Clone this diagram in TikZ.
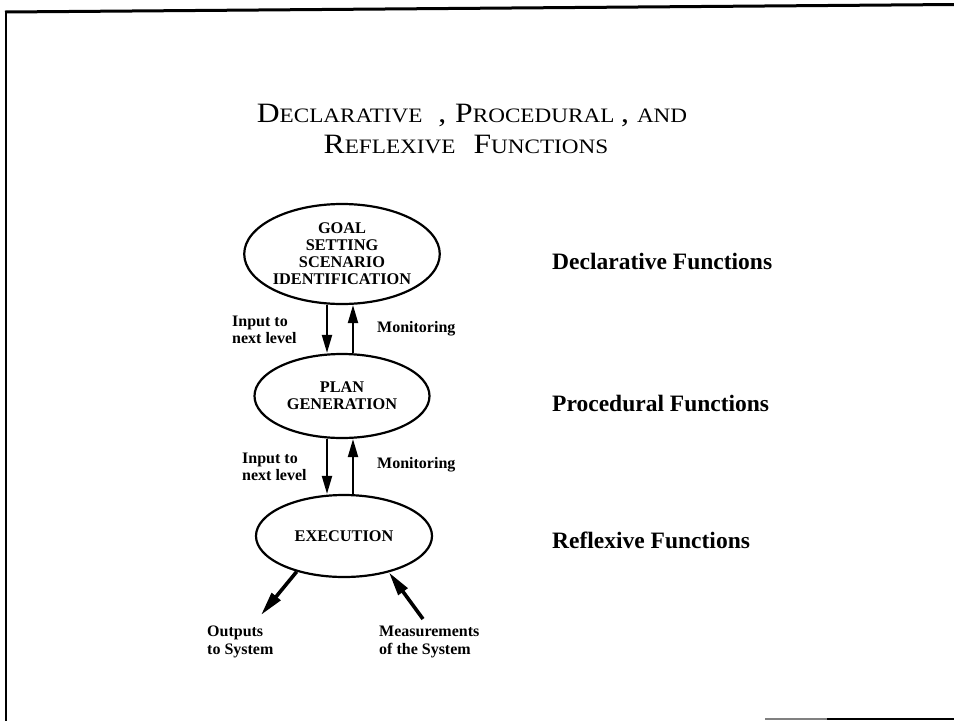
\documentclass[tikz,border=0pt]{standalone}
\usepackage{fontspec}
\usepackage{graphicx}
\setmainfont{Liberation Serif}
\usetikzlibrary{arrows.meta,shapes.geometric}
\newcommand\tcap[1]{{\fontsize{28}{30}\selectfont #1}}
\newcommand\tsm[1]{{\fontsize{20.5}{30}\selectfont #1}}
\begin{document}
\begin{tikzpicture}[x=1pt,y=-1pt,
  bub/.style={ellipse,draw,line width=2.2pt,inner sep=0pt,align=center,font=\bfseries\fontsize{16.3}{17}\selectfont},
  flow/.style={line width=2pt,-{Triangle[length=18pt,width=10pt]}},
  bigarrow/.style={line width=3.6pt,-{Triangle[length=24pt,width=11pt]}},
  lab/.style={font=\bfseries\fontsize{16}{17.5}\selectfont,align=left,inner sep=0pt},
  side/.style={font=\bfseries\fontsize{23.5}{26}\selectfont,anchor=west,inner sep=0pt},
  ttl/.style={anchor=base,inner sep=0pt}]
\useasboundingbox (0,0) rectangle (954,721);
\fill[white] (0,0) rectangle (954,721);
% frame
\draw[line width=3pt] (5,12) -- (954,4.5);
\draw[line width=2.5pt] (6,11) -- (6,721);
\draw[line width=2pt,gray] (765,719) -- (827,719);
\draw[line width=2pt] (827,719) -- (954,719);
% title
\node[ttl] (t1) at (472,122) {\scalebox{1.13}[1]{\tcap{D}\tsm{ECLARATIVE}\hspace{14pt}\tcap{,}\hspace{8pt}\tcap{P}\tsm{ROCEDURAL}\hspace{6pt}\tcap{,}\hspace{7pt}\tsm{AND}}};
\node[ttl] (t2) at (466,153) {\scalebox{1.13}[1]{\tcap{R}\tsm{EFLEXIVE}\hspace{16pt}\tcap{F}\tsm{UNCTIONS}}};
% ellipses
\node[bub,minimum width=177pt,minimum height=100pt] (goal) at (342,254) {GOAL\\SETTING\\SCENARIO\\IDENTIFICATION};
\node[bub,minimum width=175pt,minimum height=84pt] (plan) at (342,396) {PLAN\\GENERATION};
\node[bub,minimum width=176pt,minimum height=82pt] (exec) at (344,536) {EXECUTION};
% vertical connectors
\coordinate (dl) at (327,0);
\coordinate (ul) at (353,0);
\draw[flow] (goal.south -| dl) -- (plan.north -| dl);
\draw[flow] (plan.north -| ul) -- (goal.south -| ul);
\draw[flow] (plan.south -| dl) -- (exec.north -| dl);
\draw[flow] (exec.north -| ul) -- (plan.south -| ul);
% labels
\node[lab,anchor=west] (in1) at (232,330) {Input to\\next level};
\node[lab,anchor=west] (mon1) at (377,329) {Monitoring};
\node[lab,anchor=west] (in2) at (242,467) {Input to\\next level};
\node[lab,anchor=west] (mon2) at (377,465) {Monitoring};
% system arrows
\coordinate (otip) at (261,615);
\coordinate (mtail) at (423,619);
\draw[bigarrow] (exec.217) -- (otip);
\draw[bigarrow] (mtail) -- (exec.321);
\node[lab,anchor=north west] (outlab) at (207,626) {Outputs\\to System};
\node[lab,anchor=north west] (meslab) at (379,626) {Measurements\\of the System};
% side labels
\node[side] (decl) at (552,261) {Declarative Functions};
\node[side] (proc) at (552,403) {Procedural Functions};
\node[side] (refl) at (552,540) {Reflexive Functions};
\end{tikzpicture}
\end{document}
